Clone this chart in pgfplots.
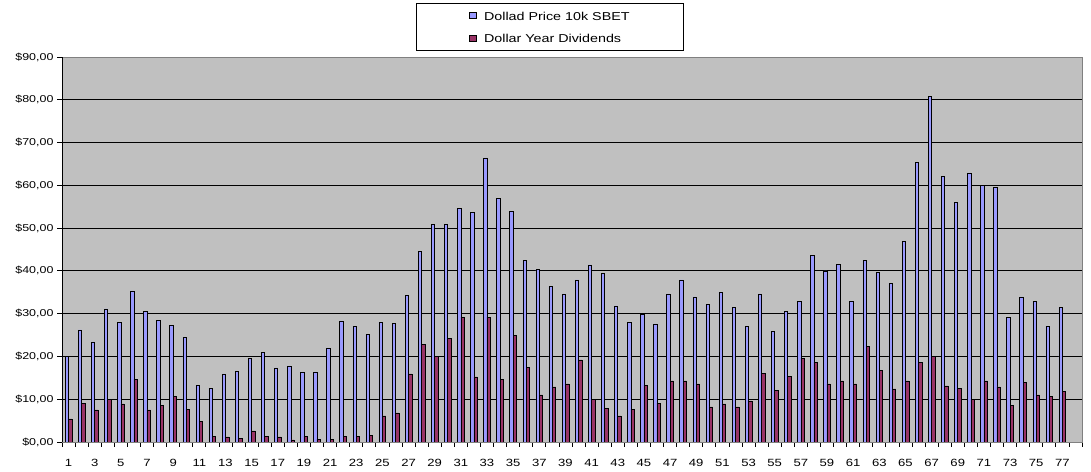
\documentclass[border=0pt]{standalone}
\usepackage{fontspec}
\setmainfont{Liberation Sans}[FakeStretch=1.25]
\usepackage{pgfplots}
\pgfplotsset{compat=1.18}
\definecolor{barblue}{HTML}{9999FF}
\definecolor{barmaroon}{HTML}{993366}
\definecolor{plotbg}{HTML}{C0C0C0}
\definecolor{frame}{HTML}{808080}
\begin{document}
\begin{tikzpicture}
\begin{axis}[
  at={(0,0)}, anchor=south west,
  scale only axis,
  width=1020bp, height=385bp,
  xmin=0.5, xmax=78.5,
  ymin=0, ymax=90,
  ybar=0pt, bar width=3.4bp,
  axis background/.style={fill=plotbg},
  axis line style={frame, line width=0.8bp},
  tick pos=left,
  tick align=outside,
  major tick length=5bp,
  tick style={black, line width=0.8bp},
  xtick={0.5,1.5,...,78.5},
  xticklabels={},
  extra x ticks={1,3,...,77},
  extra x tick style={major tick length=0pt, grid=none},
  extra x tick labels={1,3,5,7,9,11,13,15,17,19,21,23,25,27,29,31,33,35,37,39,41,43,45,47,49,51,53,55,57,59,61,63,65,67,69,71,73,75,77},
  xticklabel style={font=\fontsize{10.5}{12}\selectfont, yshift=-14bp},
  ytick={0,10,...,90},
  yticklabels={{\$0,00},{\$10,00},{\$20,00},{\$30,00},{\$40,00},{\$50,00},{\$60,00},{\$70,00},{\$80,00},{\$90,00}},
  yticklabel style={font=\fontsize{10}{12}\selectfont},
  ymajorgrids,
  major grid style={black, line width=0.8bp},
  legend style={
    at={(axis description cs:0.478,1.0156)}, anchor=south,
    draw=black, line width=0.8bp, fill=white,
    inner xsep=53.5bp, inner ysep=5.4bp,
    row sep=9.2bp, column sep=7bp,
    font=\fontsize{11.5}{13}\selectfont,
    nodes={inner sep=0pt, text height=11bp, text depth=2.5bp},
  },
  legend cell align=left,
  legend image code/.code={\draw[#1,draw=black,line width=0.6bp] (0bp,-3bp) rectangle (7bp,3bp);},
]
\addplot[fill=barblue, draw=black, line width=0.6bp] coordinates {
(1,20.1) (2,26.2) (3,23.4) (4,31.1) (5,27.9) (6,35.3) (7,30.6) (8,28.5) (9,27.3) (10,24.5)
(11,13.3) (12,12.6) (13,15.9) (14,16.6) (15,19.6) (16,21.0) (17,17.3) (18,17.8) (19,16.4) (20,16.4)
(21,22.0) (22,28.3) (23,27.1) (24,25.2) (25,28.0) (26,27.8) (27,34.3) (28,44.6) (29,50.9) (30,50.9)
(31,54.7) (32,53.7) (33,66.4) (34,57.0) (35,54.0) (36,42.5) (37,40.4) (38,36.4) (39,34.6) (40,37.9)
(41,41.4) (42,39.5) (43,31.8) (44,28.0) (45,29.9) (46,27.6) (47,34.6) (48,37.9) (49,33.9) (50,32.2)
(51,35.0) (52,31.5) (53,27.1) (54,34.6) (55,25.9) (56,30.6) (57,32.9) (58,43.7) (59,40.0) (60,41.6)
(61,32.9) (62,42.5) (63,39.7) (64,37.1) (65,47.0) (66,65.4) (67,80.8) (68,62.1) (69,56.1) (70,62.9)
(71,59.9) (72,59.6) (73,29.2) (74,33.9) (75,32.9) (76,27.1) (77,31.5)
};
\addlegendentry{Dollad Price 10k SBET}
\addplot[fill=barmaroon, draw=black, line width=0.6bp] coordinates {
(1,5.4) (2,9.1) (3,7.5) (4,10.0) (5,8.9) (6,14.7) (7,7.5) (8,8.6) (9,10.7) (10,7.7)
(11,4.9) (12,1.4) (13,1.2) (14,0.9) (15,2.6) (16,1.4) (17,1.2) (18,0.5) (19,1.4) (20,0.7)
(21,0.7) (22,1.4) (23,1.4) (24,1.6) (25,6.1) (26,6.8) (27,15.9) (28,22.9) (29,20.1) (30,24.3)
(31,29.2) (32,15.2) (33,29.2) (34,14.7) (35,25.0) (36,17.5) (37,11.0) (38,12.9) (39,13.6) (40,19.2)
(41,10.0) (42,7.9) (43,6.1) (44,7.7) (45,13.3) (46,9.1) (47,14.3) (48,14.3) (49,13.6) (50,8.2)
(51,8.9) (52,8.2) (53,9.6) (54,16.1) (55,12.1) (56,15.4) (57,19.6) (58,18.7) (59,13.6) (60,14.3)
(61,13.6) (62,22.4) (63,16.8) (64,12.4) (65,14.3) (66,18.7) (67,20.1) (68,13.1) (69,12.6) (70,10.0)
(71,14.3) (72,12.9) (73,8.6) (74,14.0) (75,11.0) (76,10.7) (77,11.9)
};
\addlegendentry{Dollar Year Dividends}
\draw[black, line width=0.8bp] (rel axis cs:0,1) -- (rel axis cs:0,0) -- (rel axis cs:1,0);
\end{axis}
\pgfresetboundingbox
\path[use as bounding box] (-62bp,-30bp) rectangle (1029bp,442bp);
\end{tikzpicture}
\end{document}
